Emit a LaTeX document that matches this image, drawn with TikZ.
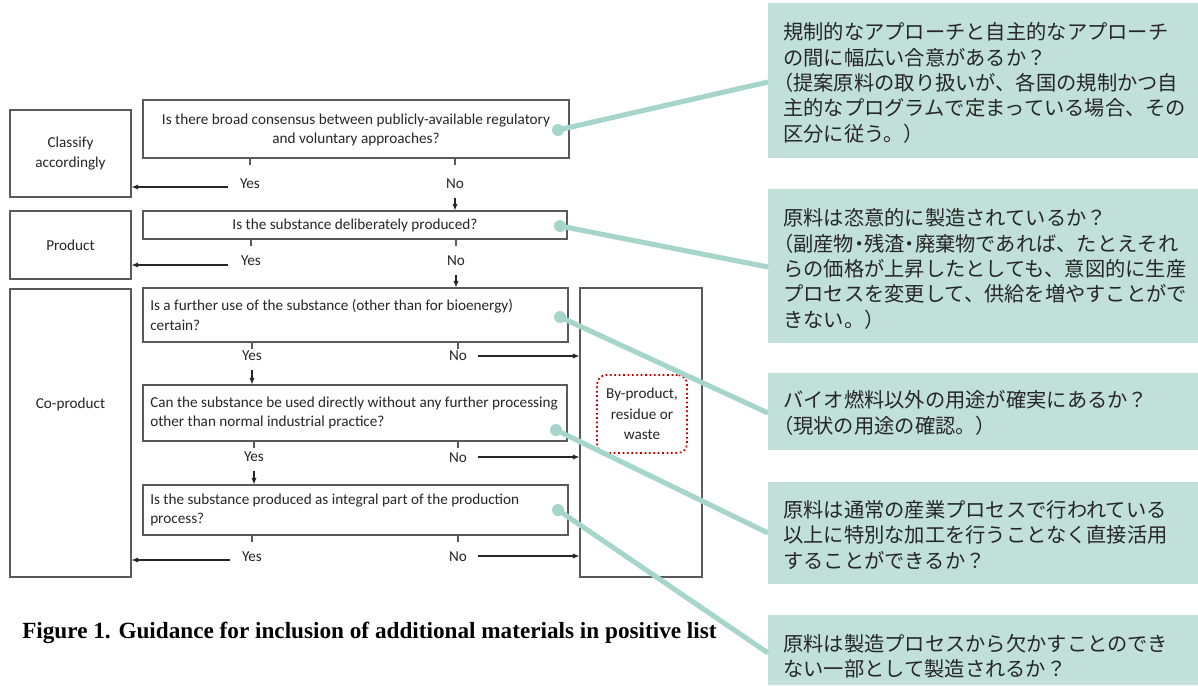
\documentclass[tikz,border=0pt]{standalone}
\usepackage{fontspec}
\setmainfont{Carlito}
\newfontfamily\jpfont{Noto Sans CJK JP}
\newfontfamily\jphalf[RawFeature=+halt]{Noto Sans CJK JP}
\newfontfamily\capfont{Liberation Serif}
\newcommand\hw[1]{{\jphalf #1}}
\usetikzlibrary{arrows.meta,fit}

\definecolor{framegray}{HTML}{5A5A5A}
\definecolor{inkgray}{HTML}{262626}
\definecolor{calloutfill}{HTML}{C0E0D9}
\definecolor{calloutline}{HTML}{A6D6CB}
\definecolor{dotred}{HTML}{C00000}

\begin{document}
\begin{tikzpicture}[x=0.75pt,y=-0.75pt,
  frame/.style={draw=framegray, line width=0.8pt, inner sep=0pt},
  boxtext/.style={font=\fontsize{11.4}{15}\selectfont, text=inkgray, align=center, inner sep=0pt},
  qtext/.style={font=\fontsize{11.4}{14.6}\selectfont, text=inkgray, inner sep=0pt, align=left, anchor=west},
  lbl/.style={font=\fontsize{11.4}{12}\selectfont, text=inkgray, inner sep=0pt},
  arr/.style={draw=inkgray, line width=0.8pt, -{Latex[length=5pt,width=4pt]}},
  stub/.style={draw=framegray, line width=0.8pt},
  callout/.style={fill=calloutfill, draw=none, inner sep=0pt},
  jtext/.style={font=\jpfont\fontsize{15.2}{19}\selectfont, text=inkgray, align=left, anchor=west, inner sep=0pt},
  link/.style={draw=calloutline, line width=3.8pt},
  linkdot/.style={circle, fill=calloutline, inner sep=0pt, minimum size=9pt}
]
\useasboundingbox (0,0) rectangle (1198,685);
\fill[white] (0,0) rectangle (1198,685);

% outcome boxes
\node[frame, fit={(10,110) (131,197)}] (classify) {};
\node[frame, fit={(10,211) (131,279)}] (product) {};
\node[frame, fit={(10,289) (131,577)}] (coprod) {};
\node[frame, fit={(580,288) (702,577)}] (byprod) {};
\node[draw=dotred, dotted, line width=1.3pt, rounded corners=7pt, inner sep=0pt,
      fit={(597,375) (687,453)}] (waste) {};
\node[boxtext] (classifyt) at (classify.center) {Classify\\accordingly};
\node[boxtext] (productt) at (product.center) {Product};
\node[boxtext] (coprodt) at (coprod.center |- 0,404) {Co-product};
\node[boxtext, font=\fontsize{11.4}{15.3}\selectfont] (wastet) at (waste.center) {By-product,\\residue or\\waste};

% question boxes
\node[frame, fit={(143,100) (569,158)}] (q1) {};
\node[frame, fit={(143,211) (567,239)}] (q2) {};
\node[frame, fit={(143,288) (568,342)}] (q3) {};
\node[frame, fit={(143,385) (567,441)}] (q4) {};
\node[frame, fit={(143,485) (568,535)}] (q5) {};
\node[boxtext, font=\fontsize{11.4}{14.6}\selectfont] (q1t) at (356,130)
  {Is there broad consensus between publicly-available regulatory\\and voluntary approaches?};
\node[boxtext] (q2t) at (355,225.5) {Is the substance deliberately produced?};
\node[qtext] (q3t) at (150,315) {Is a further use of the substance (other than for bioenergy)\\certain?};
\node[qtext] (q4t) at (150,413) {Can the substance be used directly without any further processing\\other than normal industrial practice?};
\node[qtext] (q5t) at (150,510) {Is the substance produced as integral part of the production\\process?};

% answer labels
\node[lbl] (y1) at (250,184) {Yes};  \node[lbl] (n1) at (455,184) {No};
\node[lbl] (y2) at (251,261) {Yes};  \node[lbl] (n2) at (456,261) {No};
\node[lbl] (y3) at (252,356) {Yes};  \node[lbl] (n3) at (458,356) {No};
\node[lbl] (y4) at (254,457) {Yes};  \node[lbl] (n4) at (458,458) {No};
\node[lbl] (y5) at (252,557) {Yes};  \node[lbl] (n5) at (458,557) {No};

% short stubs under each question
\foreach \q/\a/\b in {q1/y1/n1, q2/y2/n2, q3/y3/n3, q4/y4/n4, q5/y5/n5}{
  \draw[stub] (\q.south -| \a) -- ++(0,6);
  \draw[stub] (\q.south -| \b) -- ++(0,6);
}

% Yes -> outcome on the left
\coordinate (a1) at (228,187);
\coordinate (a2) at (228,265);
\coordinate (a5) at (230,560);
\draw[arr] (a1) -- (a1 -| classify.east);
\draw[arr] (a2) -- (a2 -| product.east);
\draw[arr] (a5) -- (a5 -| coprod.east);

% next question
\coordinate (d1) at (455,198);
\coordinate (d2) at (456,275);
\coordinate (d3) at (252,370);
\coordinate (d4) at (254,471);
\draw[arr] (d1) -- (d1 |- q2.north);
\draw[arr] (d2) -- (d2 |- q3.north);
\draw[arr] (d3) -- (d3 |- q4.north);
\draw[arr] (d4) -- (d4 |- q5.north);

% No -> by-product
\coordinate (r3) at (478,356);
\coordinate (r4) at (478,457);
\coordinate (r5) at (478,556);
\draw[arr] (r3) -- (r3 -| byprod.west);
\draw[arr] (r4) -- (r4 -| byprod.west);
\draw[arr] (r5) -- (r5 -| byprod.west);

% caption
\node[font=\capfont\bfseries\fontsize{17.4}{20}\selectfont, anchor=west, inner sep=0pt] (caption)
  at (22,633) {Figure 1. Guidance for inclusion of additional materials in positive list};

% Japanese notes
\node[callout, fit={(768,3) (1198,158)}] (c1) {};
\node[callout, fit={(768,189) (1198,343)}] (c2) {};
\node[callout, fit={(768,373) (1198,450)}] (c3) {};
\node[callout, fit={(768,482) (1198,584)}] (c4) {};
\node[callout, fit={(768,615) (1198,685)}] (c5) {};

\node[jtext] (j1) at (783,83) {規制的なアプローチと自主的なアプローチ\\の間に幅広い合意があるか？\\\hw{（}提案原料の取り扱いが、各国の規制かつ自\\主的なプログラムで定まっている場合、その\\区分に従う。）};
\node[jtext] (j2) at (783,269) {原料は恣意的に製造されているか？\\\hw{（}副産物\hw{・}残渣\hw{・}廃棄物であれば、たとえそれ\\らの価格が上昇したとしても、意図的に生産\\プロセスを変更して、供給を増やすことがで\\きない。）};
\node[jtext] (j3) at (783,413) {バイオ燃料以外の用途が確実にあるか？\\\hw{（}現状の用途の確認。）};
\node[jtext] (j4) at (783,535) {原料は通常の産業プロセスで行われている\\以上に特別な加工を行うことなく直接活用\\することができるか？};
\node[jtext] (j5) at (783,656) {原料は製造プロセスから欠かすことのでき\\ない一部として製造されるか？};

% leader lines from questions to notes
\node[linkdot] (p1) at (558,130) {};
\node[linkdot] (p2) at (560,226) {};
\node[linkdot] (p3) at (560,317) {};
\node[linkdot] (p4) at (556,430) {};
\node[linkdot] (p5) at (558,510) {};
\coordinate (e1) at (768,82);
\coordinate (e2) at (768,267);
\coordinate (e3) at (768,413);
\coordinate (e4) at (768,533);
\coordinate (e5) at (768,653);
\foreach \i in {1,...,5}{ \draw[link] (p\i.center) -- (e\i); }
\end{tikzpicture}
\end{document}
